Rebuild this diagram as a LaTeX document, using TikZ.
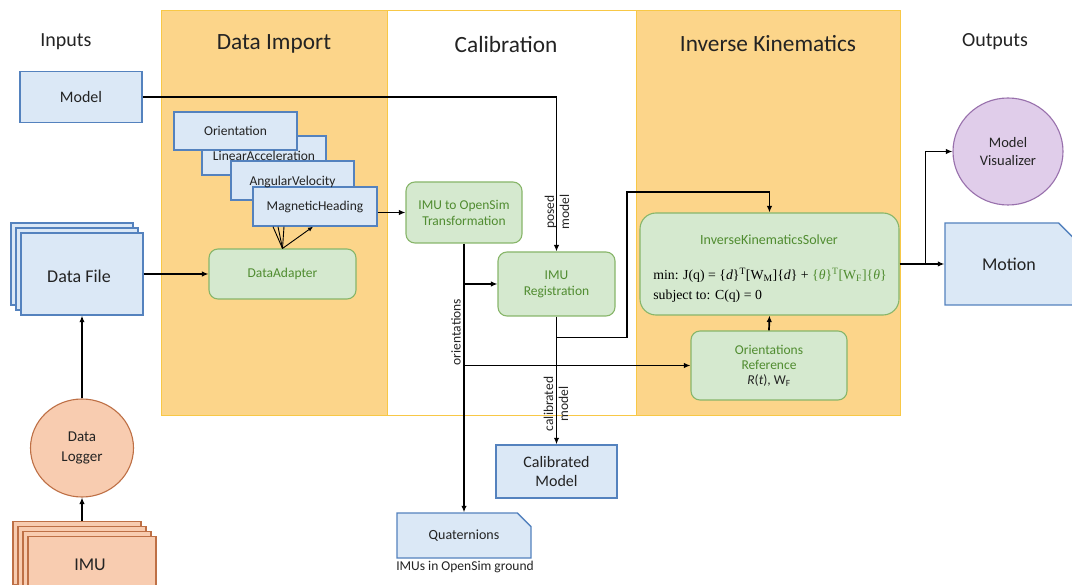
\documentclass[tikz,border=0pt]{standalone}
\usepackage{fontspec}
\setmainfont{Carlito}
\newfontfamily\timesf{Liberation Serif}
\usetikzlibrary{shapes.misc,shapes.geometric,arrows.meta,calc}
\definecolor{panel}{RGB}{252,213,138}
\definecolor{panelline}{RGB}{248,200,70}
\definecolor{bfill}{RGB}{219,232,246}
\definecolor{bline}{RGB}{84,130,190}
\definecolor{gfill}{RGB}{213,233,207}
\definecolor{gline}{RGB}{136,182,106}
\definecolor{gtext}{RGB}{80,140,48}
\definecolor{ofill}{RGB}{248,204,176}
\definecolor{oline}{RGB}{190,112,70}
\definecolor{pfill}{RGB}{224,205,234}
\definecolor{pline}{RGB}{152,112,172}
\definecolor{txt}{RGB}{35,35,35}
\tikzset{
 bluebox/.style={rectangle, draw=bline, fill=bfill, line width=1.4pt, text=txt, align=center, inner sep=0pt},
 docbox/.style={chamfered rectangle, chamfered rectangle corners=north east, chamfered rectangle xsep=8pt, chamfered rectangle ysep=8pt, draw=bline, fill=bfill, line width=1.4pt, text=txt, align=center, inner sep=0pt},
 greenbox/.style={rectangle, rounded corners=9pt, draw=gline, fill=gfill, line width=1.1pt, text=gtext, align=center, inner sep=0pt},
 orangebox/.style={rectangle, draw=oline, fill=ofill, line width=1.1pt, text=txt, align=center, inner sep=0pt},
 arr/.style={-{Latex[length=6.5pt,width=5.5pt]}, line width=1.7pt, black},
 thinarr/.style={-{Latex[length=5pt,width=4.5pt]}, line width=0.9pt, black},
 conn/.style={line width=0.9pt, black},
 coltitle/.style={text=txt, font=\fontsize{23.3}{27}\selectfont},
 iotitle/.style={text=txt, font=\fontsize{20}{24}\selectfont},
 small/.style={font=\fontsize{13.5}{16}\selectfont},
 lbl/.style={text=txt, inner sep=0pt, align=center, rotate=90, font=\fontsize{13.5}{15}\selectfont},
 panelbox/.style={draw=panelline, line width=0.8pt},
}
\begin{document}
\begin{tikzpicture}[x=1pt,y=-1pt]
\useasboundingbox (0,0) rectangle (1072,585);
\clip (0,0) rectangle (1072,585);
\fill[white] (0,0) rectangle (1072,585);
% panels
\filldraw[panelbox, fill=panel] (161,10) rectangle (387,415);
\filldraw[panelbox, fill=white] (387,10) rectangle (636,415);
\filldraw[panelbox, fill=panel] (636,10) rectangle (900,415);
% titles
\node[iotitle] (tin) at (66,42) {Inputs};
\node[coltitle] (tdi) at (274,44) {Data Import};
\node[coltitle] (tca) at (506,44) {Calibration};
\node[coltitle] (tik) at (768,44) {Inverse Kinematics};
\node[iotitle] (tout) at (995,42) {Outputs};
% inputs
\node[bluebox, minimum width=122pt, minimum height=51pt, font=\fontsize{16}{19}\selectfont] (model) at (81,97) {Model};
\node[docbox, chamfered rectangle xsep=10pt, chamfered rectangle ysep=10pt, minimum width=122pt, minimum height=82pt] (df3) at (72,264) {};
\node[docbox, chamfered rectangle xsep=10pt, chamfered rectangle ysep=10pt, minimum width=122pt, minimum height=82pt] (df2) at (77,269) {};
\node[docbox, chamfered rectangle xsep=10pt, chamfered rectangle ysep=10pt, minimum width=122pt, minimum height=82pt] (df) at (82,274) {};
\node[text=txt, font=\fontsize{18}{21}\selectfont] (dftext) at (79,276) {Data File};
\node[ellipse, draw=oline, fill=ofill, line width=1.1pt, text=txt, align=center, inner sep=0pt, minimum width=103pt, minimum height=98pt, font=\fontsize{15}{20}\selectfont] (dl) at (82,448) {Data\\Logger};
\node[orangebox, minimum width=128pt, minimum height=63pt] (imu1) at (77,553) {};
\node[orangebox, minimum width=128pt, minimum height=63pt] (imu2) at (82,558) {};
\node[orangebox, minimum width=128pt, minimum height=63pt] (imu3) at (87,563) {};
\node[orangebox, minimum width=128pt, minimum height=63pt] (imu) at (92,568) {};
\node[text=txt, font=\fontsize{18}{21}\selectfont] (imutext) at (90,565) {IMU};
% data import
\node[bluebox, minimum width=124pt, minimum height=39pt] (la) at (264,155.5) {};
\node[bluebox, minimum width=123pt, minimum height=39pt] (av) at (292.5,180.5) {};
\node[bluebox, minimum width=124pt, minimum height=39pt] (mh) at (315,206.5) {};
\node[bluebox, minimum width=123pt, minimum height=38pt] (ori) at (235.5,131) {};
\node[small, text=txt] (oritext) at (235.5,131) {Orientation};
\node[small, text=txt] (latext) at (264,156) {LinearAcceleration};
\node[small, text=txt] (avtext) at (292.5,181.5) {AngularVelocity};
\node[small, text=txt] (mhtext) at (315,207) {MagneticHeading};
\node[greenbox, small, minimum width=147pt, minimum height=50pt] (da) at (282.5,274) {DataAdapter};
% calibration
\node[greenbox, small, minimum width=116pt, minimum height=61pt] (os) at (464,212.5) {IMU to OpenSim\\Transformation};
\node[greenbox, small, minimum width=117pt, minimum height=64pt] (reg) at (556.5,284) {IMU\\Registration};
\node[bluebox, minimum width=121pt, minimum height=53pt, font=\fontsize{16}{18.5}\selectfont] (cm) at (556.5,471.5) {Calibrated\\Model};
\node[docbox, minimum width=134pt, minimum height=45pt, font=\fontsize{14}{17}\selectfont] (quat) at (464,535.5) {Quaternions};
\node[text=txt, font=\fontsize{13.5}{16}\selectfont] (quatlbl) at (465,567) {IMUs in OpenSim ground};
% inverse kinematics
\node[greenbox, rounded corners=16pt, minimum width=259pt, minimum height=102pt] (ik) at (769.5,264) {};
\node[text=gtext, font=\fontsize{14}{17}\selectfont] (iktitle) at (769,240) {InverseKinematicsSolver};
\node[align=left, text=black, inner sep=0pt, font=\timesf\fontsize{13.8}{20}\selectfont] (ikf) at (770,285) {min: J(q) = \{\textit{d}\}\textsuperscript{T}[W\textsubscript{M}]\{\textit{d}\} + \textcolor{gtext}{\{\textit{θ}\}\textsuperscript{T}[W\textsubscript{F}]\{\textit{θ}\}}\\subject to: C(q) = 0};
\node[greenbox, font=\fontsize{13.5}{15}\selectfont, minimum width=156pt, minimum height=69pt] (oref) at (769,365.5) {Orientations\\Reference\\\textcolor{txt}{\textit{R}(\textit{t}), W\textsubscript{F}}};
% outputs
\node[ellipse, draw=pline, fill=pfill, line width=1.1pt, text=txt, align=center, inner sep=0pt, minimum width=110pt, minimum height=107pt, font=\fontsize{14.5}{18}\selectfont] (mv) at (1008,151.5) {Model\\Visualizer};
\node[docbox, minimum width=128pt, minimum height=82pt, font=\fontsize{18}{21}\selectfont] (mo) at (1009,264) {Motion};
% connectors
\draw[arr] (model.east) -| (reg.north);
\node[lbl] (lposed) at (557,212) {posed\\model};
\draw[arr] (df.east) -- (da.west);
\draw[arr] (dl.north) -- (df.south);
\draw[arr] (dl.south |- imu1.north) -- (dl.south);
\draw[conn] (da.north) -- ($(mh.south)+(-42,0)$);
\draw[conn] (da.north) -- ($(mh.south)+(-37,0)$);
\draw[conn] (da.north) -- ($(mh.south)+(-31,0)$);
\draw[thinarr] (da.north) -- ($(mh.south)+(-2,0)$);
\draw[arr] (mh.east |- os.west) -- (os.west);
\draw[arr] (os.south) -- (quat.north);
\node[lbl] (lorient) at (456,332) {orientations};
\coordinate (o1) at (os.south |- reg.west);
\draw[arr] (o1) -- (reg.west);
\coordinate (o2) at (os.south |- oref.west);
\draw[arr] (o2) -- (oref.west);
\draw[arr] (reg.south) -- (cm.north);
\node[lbl] (lcal) at (556,404) {calibrated\\model};
\coordinate (c1) at ($(reg.south)+(0,21)$);
\coordinate (c2) at (627,192);
\draw[arr] (c1) -| (c2) -| (ik.north);
\draw[arr] (oref.north) -- (ik.south);
\draw[arr] (ik.east) -- (mo.west);
\coordinate (m1) at ($(ik.east)+(26,0)$);
\draw[arr] (m1) |- (mv.west);
\end{tikzpicture}
\end{document}
